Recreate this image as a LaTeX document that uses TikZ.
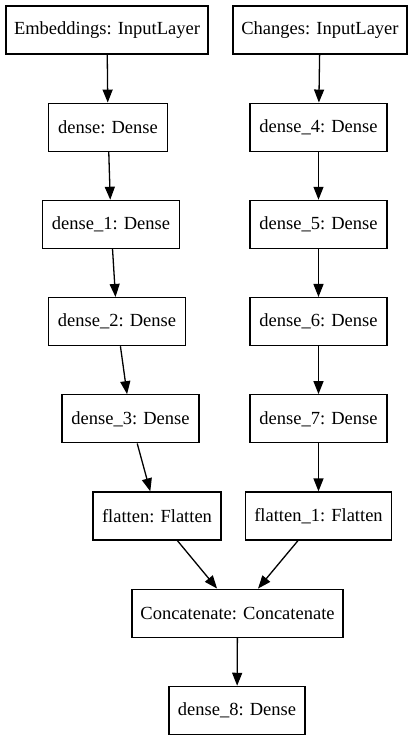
\documentclass[tikz,border=0pt]{standalone}
\usepackage{fontspec}
\setmainfont{Liberation Serif}
\usetikzlibrary{arrows.meta}

\begin{document}
\begin{tikzpicture}[x=1pt, y=-1pt, >={Triangle[length=13pt,width=10pt]},
                    every node/.style={rectangle, draw=black, line width=1.3pt, minimum height=48pt,
                                       inner sep=0pt, font=\fontsize{18.5}{20}\selectfont},
                    every edge/.style={draw, line width=1.3pt}]
    \useasboundingbox (0,0) rectangle (413,741);

    % Embeddings branch
    \node[minimum width=202pt] (emb) at (107,30) {Embeddings: InputLayer}; % Input
    \node[minimum width=119pt] (d0) at (108,127.2) {dense: Dense};
    \node[minimum width=137pt] (d1) at (111,224.4) {dense\_1: Dense};
    \node[minimum width=137pt] (d2) at (117,321.6) {dense\_2: Dense};
    \node[minimum width=137pt] (d3) at (130.5,418.8) {dense\_3: Dense};
    \node[minimum width=128pt] (fl0) at (157,516) {flatten: Flatten};

    % Changes branch
    \node[minimum width=174pt] (chg) at (320,30) {Changes: InputLayer}; % Input
    \node[minimum width=137pt] (d4) at (318.5,127.2) {dense\_4: Dense};
    \node[minimum width=137pt] (d5) at (318.5,224.4) {dense\_5: Dense};
    \node[minimum width=137pt] (d6) at (318.5,321.6) {dense\_6: Dense};
    \node[minimum width=137pt] (d7) at (318.5,418.8) {dense\_7: Dense};
    \node[minimum width=146pt] (fl1) at (318.5,516) {flatten\_1: Flatten};

    % Merge
    \node[minimum width=211pt] (cat) at (237.5,613.2) {Concatenate: Concatenate};
    \node[minimum width=136pt] (d8) at (237,710.4) {dense\_8: Dense}; % Output

    % Define edges
    \path [->](emb) edge (d0);
    \path [->](d0) edge (d1);
    \path [->](d1) edge (d2);
    \path [->](d2) edge (d3);
    \path [->](d3) edge (fl0);
    \path [->](chg) edge (d4);
    \path [->](d4) edge (d5);
    \path [->](d5) edge (d6);
    \path [->](d6) edge (d7);
    \path [->](d7) edge (fl1);
    \path [->](fl0) edge (cat);
    \path [->](fl1) edge (cat);
    \path [->](cat) edge (d8);
\end{tikzpicture}
\end{document}
